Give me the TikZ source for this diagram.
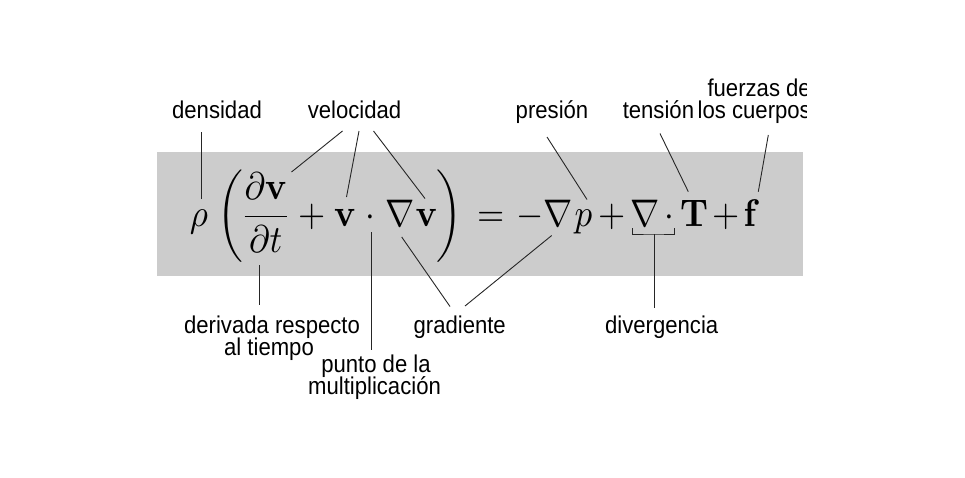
\documentclass[tikz,border=0pt]{standalone}
\usepackage[no-math]{fontspec}
\usepackage{graphicx}
\newfontfamily\labfont{Liberation Sans}[FakeStretch=0.91]
\setlength{\nulldelimiterspace}{0pt}
\newcommand{\eqglyph}[1]{\scalebox{3.5}[3.85]{$\displaystyle #1$}}
\newcommand{\fracphantom}{\vphantom{\frac{\partial\mathbf v}{\partial t}}}
\tikzset{
  lab/.style={font=\labfont\fontsize{24.3}{21}\selectfont, inner sep=0pt, anchor=base},
  gl/.style={inner sep=0pt, anchor=base},
  conn/.style={draw=black!85, line width=0.9pt},
  band/.style={fill=black!20, draw=none},
}
\begin{document}
\begin{tikzpicture}[x=1pt,y=-1pt]
\useasboundingbox (0,0) rectangle (965,477);
\fill[white] (0,0) rectangle (965,477);
\path[band] (157,152) rectangle (803,276);

% equation glyphs (baseline y = 226)
\node[gl] (rho)    at (198.8,226) {\eqglyph{\rho}};
\node[gl] (lpar)   at (230,226)   {\eqglyph{\left(\fracphantom\right.}};
\node[gl] (frac)   at (265.8,226) {\eqglyph{\frac{\partial\mathbf v}{\partial t}}};
\node[gl] (plusA)  at (311.7,226) {\eqglyph{+}};
\node[gl] (vA)     at (345,226)   {\eqglyph{\mathbf v}};
\node[gl] (cdotA)  at (370.7,226) {\eqglyph{\cdot}};
\node[gl] (nablaA) at (399.7,226) {\eqglyph{\nabla}};
\node[gl] (vB)     at (426.5,226) {\eqglyph{\mathbf v}};
\node[gl] (rpar)   at (449,226)   {\eqglyph{\left.\fracphantom\right)}};
\node[gl] (eq)     at (490.8,226) {\eqglyph{=}};
\node[gl] (minus)  at (530,226)   {\eqglyph{-}};
\node[gl] (nablaB) at (558,226)   {\eqglyph{\nabla}};
\node[gl] (p)      at (583.3,226) {\eqglyph{p}};
\node[gl] (plusB)  at (611.7,226) {\eqglyph{+}};
\node[gl] (nablaC) at (645,226)   {\eqglyph{\nabla}};
\node[gl] (cdotB)  at (669.3,226) {\eqglyph{\cdot}};
\node[gl] (T)      at (694,226)   {\eqglyph{\mathbf T}};
\node[gl] (plusC)  at (725.8,226) {\eqglyph{+}};
\node[gl] (f)      at (751.7,226) {\eqglyph{\mathbf f}};

% labels above
\node[lab] (dens) at (217,118.5)   {densidad};
\node[lab] (vel)  at (354.5,118.5) {velocidad};
\node[lab] (pres) at (552,118.5)   {presión};
\node[lab] (tens) at (658.4,118.5) {tensión};
\begin{scope}
  \clip (0,0) rectangle (806.5,477);
  \node[lab, anchor=base east] (fuer)  at (811,96)    {fuerzas de};
  \node[lab, anchor=base east] (fuer2) at (811,118.5) {los cuerpos};
\end{scope}

% labels below
\node[lab] (deriv)  at (272,333)   {derivada respecto};
\node[lab] (deriv2) at (269,355)   {al tiempo};
\node[lab] (punto)  at (376,372)   {punto de la};
\node[lab] (punto2) at (374.5,394) {multiplicación};
\node[lab] (grad)   at (459.7,333) {gradiente};
\node[lab] (div)    at (661.7,333) {divergencia};

% connector end points
\coordinate (densA) at (201.5,132);   \coordinate (densB) at (201.5,198.5);
\coordinate (velA1) at (342.5,131);   \coordinate (velB1) at (291.5,172);
\coordinate (velA2) at (359,131);     \coordinate (velB2) at (346.5,197);
\coordinate (velA3) at (373.5,131);   \coordinate (velB3) at (425,198.5);
\coordinate (presA) at (547,137);     \coordinate (presB) at (587,199.5);
\coordinate (tensA) at (660,133.5);   \coordinate (tensB) at (688.3,191.7);
\coordinate (fuerA) at (768.3,135);   \coordinate (fuerB) at (758.3,191.7);
\coordinate (derA)  at (259,265);     \coordinate (derB)  at (259,305);
\coordinate (punA)  at (371,232);     \coordinate (punB)  at (371,350);
\coordinate (graA1) at (401.7,237);   \coordinate (graB1) at (450,306.5);
\coordinate (graA2) at (551.7,235.5); \coordinate (graB2) at (465,306);
\coordinate (brL)   at (632.7,228.3); \coordinate (brR)   at (674,228.3);
\coordinate (divA)  at (654,234);     \coordinate (divB)  at (654,308.3);

% connectors
\draw[conn] (densA) -- (densB);
\draw[conn] (velA1) -- (velB1);
\draw[conn] (velA2) -- (velB2);
\draw[conn] (velA3) -- (velB3);
\draw[conn] (presA) -- (presB);
\draw[conn] (tensA) -- (tensB);
\draw[conn] (fuerA) -- (fuerB);
\draw[conn] (derA) -- (derB);
\draw[conn] (punA) -- (punB);
\draw[conn] (graA1) -- (graB1);
\draw[conn] (graA2) -- (graB2);
\draw[conn] (brL) |- (divA) -| (brR);
\draw[conn] (divA) -- (divB);
\end{tikzpicture}
\end{document}
